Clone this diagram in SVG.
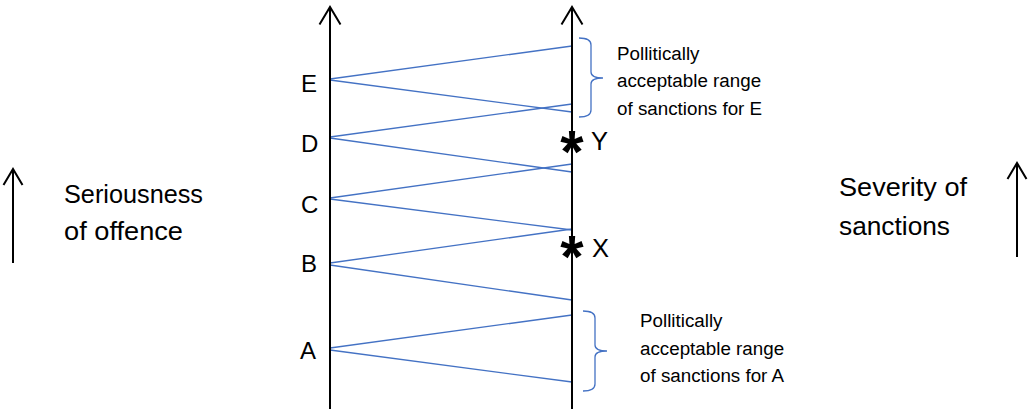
<svg xmlns="http://www.w3.org/2000/svg" width="1030" height="409" viewBox="0 0 1030 409">
<style>
.axis{stroke:#000;stroke-width:2;fill:none}
.head{stroke:#000;stroke-width:2;fill:none;stroke-linejoin:miter}
.link{stroke:#4472C4;stroke-width:1.3;fill:none}
.brace{stroke:#4472C4;stroke-width:1.3;fill:none}
.lbl{font-family:"Liberation Sans",Arial,sans-serif;font-size:24px;fill:#000}
.big{font-family:"Liberation Sans",Arial,sans-serif;font-size:25.5px;fill:#000}
.small{font-family:"Liberation Sans",Arial,sans-serif;font-size:18.8px;fill:#000}
.star{font-family:"Liberation Sans",Arial,sans-serif;font-weight:bold;font-size:60px;fill:#000}
</style>
<rect width="1030" height="409" fill="#fff"/>
<g id="connectors">
<line class="link" x1="330" y1="79" x2="572" y2="46"/>
<line class="link" x1="330" y1="80" x2="572" y2="112"/>
<line class="link" x1="330" y1="137" x2="572" y2="104"/>
<line class="link" x1="330" y1="138" x2="572" y2="172"/>
<line class="link" x1="330" y1="198" x2="572" y2="164"/>
<line class="link" x1="330" y1="199" x2="572" y2="230"/>
<line class="link" x1="330" y1="263" x2="572" y2="229"/>
<line class="link" x1="330" y1="265" x2="572" y2="300"/>
<line class="link" x1="330" y1="348" x2="572" y2="315"/>
<line class="link" x1="330" y1="350" x2="572" y2="382"/>
</g>
<g id="axis-offence">
<line class="axis" x1="330" y1="7" x2="330" y2="409"/>
<polyline class="head" points="319.5,24.5 330,7 340.5,24.5"/>
</g>
<g id="axis-sanctions">
<line class="axis" x1="572" y1="7" x2="572" y2="409"/>
<polyline class="head" points="561.5,24.5 572,7 582.5,24.5"/>
</g>
<g id="node-E"><text class="lbl" x="301" y="92">E</text></g>
<g id="node-D"><text class="lbl" x="301" y="152">D</text></g>
<g id="node-C"><text class="lbl" x="301" y="213">C</text></g>
<g id="node-B"><text class="lbl" x="301" y="272">B</text></g>
<g id="node-A"><text class="lbl" x="300" y="359">A</text></g>
<g id="mark-Y">
<text class="star" x="572" y="172" text-anchor="middle">*</text>
<text class="big" x="591" y="150">Y</text>
</g>
<g id="mark-X">
<text class="star" x="572" y="277" text-anchor="middle">*</text>
<text class="big" x="592" y="257">X</text>
</g>
<g id="brace-E">
<path class="brace" d="M579,38 Q591,38 591,45 L591,72 Q591,78 603,78 Q591,78 591,84 L591,110 Q591,117 579,117"/>
<text class="small" x="617" y="60">Pollitically</text>
<text class="small" x="617" y="87">acceptable range</text>
<text class="small" x="617" y="115">of sanctions for E</text>
</g>
<g id="brace-A">
<path class="brace" d="M583,311 Q595,311 595,318 L595,345 Q595,351 607,351 Q595,351 595,357 L595,384 Q595,391 583,391"/>
<text class="small" x="640" y="327">Pollitically</text>
<text class="small" x="640" y="355">acceptable range</text>
<text class="small" x="640" y="382">of sanctions for A</text>
</g>
<g id="label-offence">
<line class="axis" x1="13" y1="170" x2="13" y2="263"/>
<polyline class="head" points="3.5,185 13,169 22.5,185"/>
<text class="big" x="64" y="203" textLength="139" lengthAdjust="spacingAndGlyphs">Seriousness</text>
<text class="big" x="64" y="240" textLength="119" lengthAdjust="spacingAndGlyphs">of offence</text>
</g>
<g id="label-sanctions">
<line class="axis" x1="1017" y1="164" x2="1017" y2="257"/>
<polyline class="head" points="1007.5,179 1017,163 1026.5,179"/>
<text class="big" x="839" y="196" textLength="128" lengthAdjust="spacingAndGlyphs">Severity of</text>
<text class="big" x="839" y="235" textLength="111" lengthAdjust="spacingAndGlyphs">sanctions</text>
</g>
</svg>
